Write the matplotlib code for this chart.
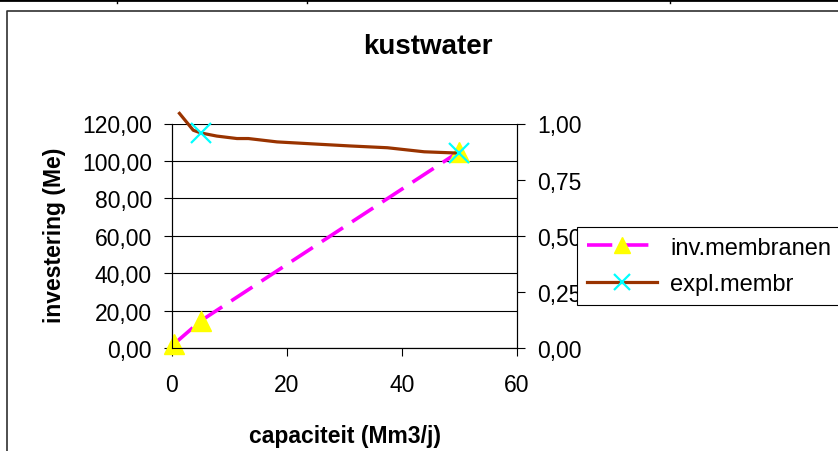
import matplotlib
matplotlib.use('Agg')
import matplotlib.pyplot as plt
from matplotlib.lines import Line2D
from matplotlib.ticker import FuncFormatter, FixedLocator

plt.rcParams['font.family'] = ['Liberation Sans', 'DejaVu Sans']

# ---- data ----
title = "kustwater"
x_label = "capaciteit (Mm3/j)"
y_label = "investering (Me)"
inv_name = "inv.membranen"
expl_name = "expl.membr"

inv_x = [0.3, 5, 50]
inv_y = [2, 14.5, 105]

expl_x = [1.3, 3.7, 5, 7.8, 11.3, 13.3, 18.3, 25.3, 31, 37.5, 43.9, 50]
expl_y = [1.045, 0.97, 0.958, 0.944, 0.933, 0.933, 0.918, 0.908, 0.900, 0.892, 0.874, 0.868]
expl_marked = [2, 11]

x_ticks = [0, 20, 40, 60]
left_ticks = [0, 20, 40, 60, 80, 100, 120]
right_ticks = [0, 0.25, 0.5, 0.75, 1.0]

# ---- figure ----
W, H = 838, 452
fig = plt.figure(figsize=(W / 100, H / 100), dpi=100)
fig.patch.set_facecolor('white')

ax = fig.add_axes([172 / W, 1 - 349 / H, (516.7 - 172) / W, (349 - 124.5) / H])
ax2 = ax.twinx()

comma = FuncFormatter(lambda v, p: f"{v:.2f}".replace('.', ','))
FS = 16.5

ax.set_xlim(x_ticks[0], x_ticks[-1])
ax.set_ylim(left_ticks[0], left_ticks[-1])
ax2.set_ylim(right_ticks[0], right_ticks[-1])
ax.xaxis.set_major_locator(FixedLocator(x_ticks))
ax.yaxis.set_major_locator(FixedLocator(left_ticks))
ax2.yaxis.set_major_locator(FixedLocator(right_ticks))
ax.yaxis.set_major_formatter(comma)
ax2.yaxis.set_major_formatter(comma)
ax.set_xticklabels([str(t) for t in x_ticks])

ax.tick_params(axis='x', direction='out', length=5.5, width=0.8, pad=12.5, labelsize=FS)
ax.tick_params(axis='y', direction='out', length=5.5, width=0.8, pad=9, labelsize=FS)
ax2.tick_params(axis='y', direction='out', length=5.5, width=0.8, pad=9, labelsize=FS)

ax.grid(axis='y', color='black', linewidth=0.8)
ax.set_axisbelow(True)
for a in (ax, ax2):
    a.spines['top'].set_visible(False)
    for s in ('left', 'right', 'bottom'):
        a.spines[s].set_linewidth(0.8)
        a.spines[s].set_color('black')

l1, = ax.plot(inv_x, inv_y, color='#FF00FF', linewidth=2.6, dashes=(7, 3),
              marker='^', markersize=14, markerfacecolor='#FFFF00',
              markeredgecolor='#FFFF00', clip_on=False, label=inv_name, zorder=3)
l2, = ax2.plot(expl_x, expl_y, color='#993300', linewidth=2.3,
               marker='x', markersize=14, markeredgecolor='#00FFFF', markeredgewidth=1.6,
               markevery=expl_marked, clip_on=False, label=expl_name, zorder=3)

# ---- texts ----
fig.text(428 / W, 1 - 54.3 / H, title, ha='center', va='baseline',
         fontsize=20, fontweight='bold')
fig.text(345 / W, 1 - 443.3 / H, x_label, ha='center', va='baseline',
         fontsize=FS, fontweight='bold')
fig.text(55 / W, 1 - 235.5 / H, y_label, ha='center', va='center', rotation=90,
         fontsize=FS, fontweight='bold')

# ---- legend ----
leg = fig.legend(handles=[l1, l2], loc='upper left',
                 bbox_to_anchor=(576.7 / W, 1 - 227.7 / H),
                 fontsize=17, frameon=True, fancybox=False, framealpha=1,
                 edgecolor='black', borderpad=0.42, handlelength=3.0,
                 handletextpad=0.55, labelspacing=0.6, markerscale=0.85,
                 borderaxespad=0)
leg.get_frame().set_linewidth(0.8)

# ---- surrounding frame decoration ----
fig.add_artist(Line2D([0, 1], [1 - 1 / H, 1 - 1 / H], transform=fig.transFigure,
                      color='black', linewidth=2.0))
for xv in (117, 307, 670):
    fig.add_artist(Line2D([xv / W, xv / W], [1, 1 - 3.5 / H], transform=fig.transFigure,
                          color='black', linewidth=1.0))
fig.add_artist(Line2D([7 / W, 7 / W, 1], [0, 1 - 11.7 / H, 1 - 11.7 / H],
                      transform=fig.transFigure, color='#303030', linewidth=1.2))

fig.savefig('out.png', dpi=100)
